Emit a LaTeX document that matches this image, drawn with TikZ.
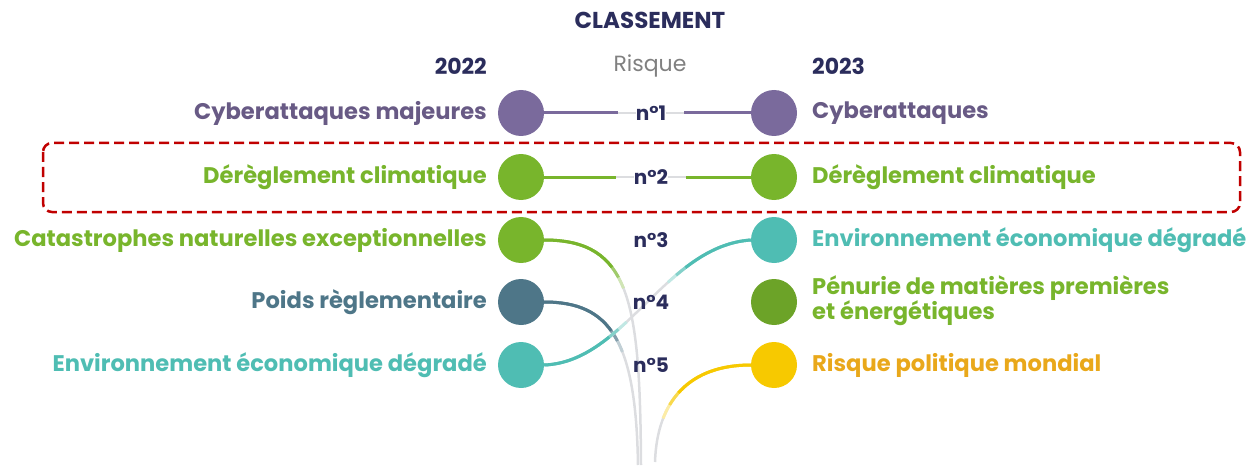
\documentclass[tikz,border=0pt]{standalone}
\usepackage{fontspec}
\setmainfont{Poppins}
\definecolor{purp}{HTML}{7A6A9C}
\definecolor{grn}{HTML}{78B52C}
\definecolor{slate}{HTML}{4E7688}
\definecolor{teal2}{HTML}{4FBDB3}
\definecolor{yel}{HTML}{F7C900}
\definecolor{yeltext}{HTML}{E9A81A}
\definecolor{navy}{HTML}{2B2D5C}
\definecolor{lgray}{HTML}{DCDDE0}
\definecolor{dred}{HTML}{C00000}
\pgfdeclarelayer{bg}
\pgfsetlayers{bg,main}
\begin{document}
\begin{tikzpicture}[x=1pt,y=-1pt,
  dot/.style={circle,fill=#1,minimum size=46pt,inner sep=0pt},
  lbl/.style={font=\fontsize{22.6}{25}\selectfont\bfseries,text=#1,inner sep=0pt},
  lleft/.style={lbl=#1,anchor=east},
  lright/.style={lbl=#1,anchor=west,align=left},
  rank/.style={font=\fontsize{20}{24}\selectfont\bfseries,text=navy,inner sep=0pt},
  head/.style={font=\fontsize{22}{25}\selectfont\bfseries,text=navy,inner sep=0pt},
  conn/.style={line width=3pt,#1},
  faint/.style={line width=2.5pt,lgray}
]
\useasboundingbox (0,0) rectangle (1253,468);
% headings
\node[head,font=\fontsize{23}{26}\selectfont\bfseries] (title) at (650,20) {CLASSEMENT};
\node[head,anchor=east] (y22) at (487,66) {2022};
\node[font=\fontsize{22}{25}\selectfont,text=gray,inner sep=0pt] (risk) at (650,66) {Risque};
\node[head,anchor=west] (y23) at (812,66) {2023};
% left dots
\node[dot=purp] (L1) at (521,113) {};
\node[dot=grn] (L2) at (521,177) {};
\node[dot=grn] (L3) at (521,240) {};
\node[dot=slate] (L4) at (521,302) {};
\node[dot=teal2] (L5) at (521,365) {};
% right dots
\node[dot=purp] (R1) at (774,113) {};
\node[dot=grn] (R2) at (774,177) {};
\node[dot=teal2] (R3) at (774,240) {};
\node[dot=grn!90!black] (R4) at (774,302) {};
\node[dot=yel] (R5) at (774,365) {};
% bottom endpoints
\coordinate (B1) at (641,465);
\coordinate (B2) at (638,465);
\coordinate (B3) at (655,462);
% ranks
\node[rank] (n1) at (651,113) {n°1};
\node[rank] (n2) at (651,177) {n°2};
\node[rank] (n3) at (651,240) {n°3};
\node[rank] (n4) at (651,302) {n°4};
\node[rank] (n5) at (651,365) {n°5};
\begin{pgfonlayer}{bg}
% row lines
\draw[faint] (L1) -- (n1);
\draw[faint] (n1) -- (R1);
\draw[faint] (L2) -- (n2);
\draw[faint] (n2) -- (R2);
\draw[conn=purp,shorten >=18pt] (L1) -- (n1);
\draw[conn=purp,shorten <=18pt] (n1) -- (R1);
\draw[conn=grn,shorten >=18pt] (L2) -- (n2);
\draw[conn=grn,shorten <=18pt] (n2) -- (R2);
% curves (light base)
\draw[faint] (L3.east) .. controls (630,240) and (640,300) .. (B1);
\draw[faint] (L4.east) .. controls (610,302) and (636,340) .. (B2);
\draw[faint] (L5.east) .. controls (625,362) and (665,246) .. (R3.west);
\draw[faint] (R5.west) .. controls (690,365) and (657,400) .. (B3);
% colored parts with fade
\foreach \c/\l in {grn!35/100, grn!70/88, grn/76}{
  \draw[conn=\c,dash pattern=on \l pt off 1000pt] (L3.east) .. controls (630,240) and (640,300) .. (B1);}
\foreach \c/\l in {slate!35/100, slate!70/88, slate/76}{
  \draw[conn=\c,dash pattern=on \l pt off 1000pt] (L4.east) .. controls (610,302) and (636,340) .. (B2);}
\foreach \c/\l in {teal2!35/95, teal2!70/84, teal2/72}{
  \draw[conn=\c,dash pattern=on \l pt off 1000pt] (L5.east) .. controls (625,362) and (665,246) .. (R3.west);
  \draw[conn=\c,dash pattern=on \l pt off 1000pt] (R3.west) .. controls (665,246) and (625,362) .. (L5.east);}
\foreach \c/\l in {yel!35/110, yel!70/95, yel/80}{
  \draw[conn=\c,dash pattern=on \l pt off 1000pt] (R5.west) .. controls (690,365) and (657,400) .. (B3);}
\end{pgfonlayer}
% left labels
\node[lleft=purp!85!black] (tL1) at (487,113) {Cyberattaques majeures};
\node[lleft=grn] (tL2) at (487,177) {Dérèglement climatique};
\node[lleft=grn] (tL3) at (487,240) {Catastrophes naturelles exceptionnelles};
\node[lleft=slate] (tL4) at (487,302) {Poids règlementaire};
\node[lleft=teal2] (tL5) at (487,365) {Environnement économique dégradé};
% right labels
\node[lright=purp!85!black] (tR1) at (812,113) {Cyberattaques};
\node[lright=grn] (tR2) at (812,177) {Dérèglement climatique};
\node[lright=teal2] (tR3) at (812,240) {Environnement économique dégradé};
\node[lright=grn] (tR4) at (812,301) {Pénurie de matières premières\\et énergétiques};
\node[lright=yeltext] (tR5) at (812,365) {Risque politique mondial};
% highlight box
\draw[dred,line width=2.5pt,dash pattern=on 10pt off 5pt,rounded corners=9pt] (43,143) rectangle (1240,212);
\end{tikzpicture}
\end{document}
